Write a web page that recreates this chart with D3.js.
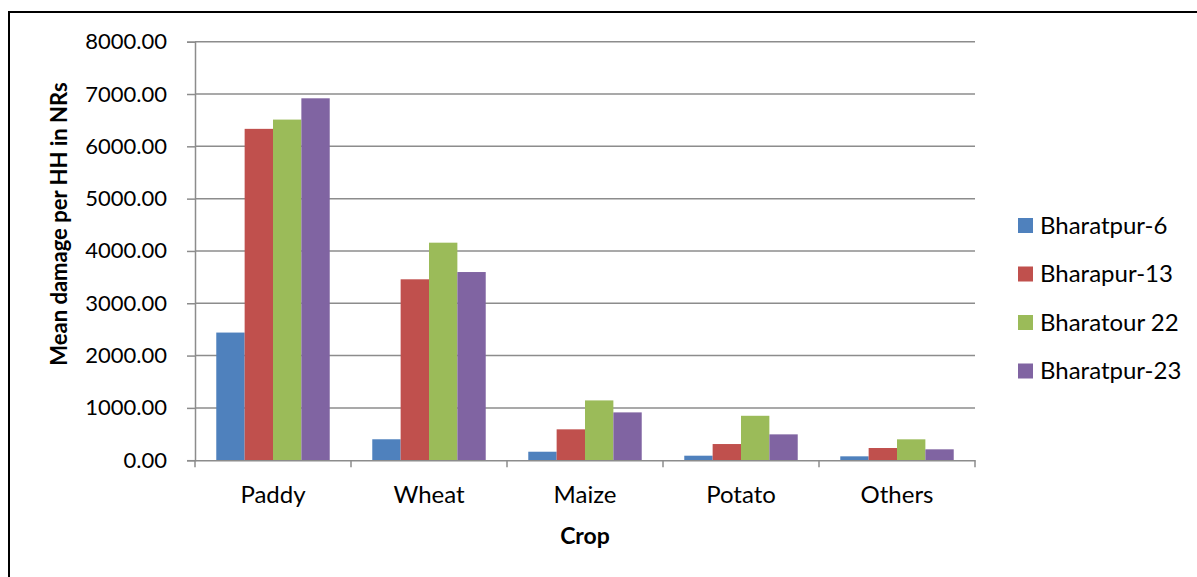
<!DOCTYPE html>
<html>
<head>
<meta charset="utf-8">
<script src="https://cdn.jsdelivr.net/npm/d3@7"></script>
<style>
  html, body { margin: 0; padding: 0; background: #fff; }
  svg { display: block; font-family: Lato, "Open Sans", sans-serif; }
</style>
</head>
<body>
<svg id="chart" width="1197" height="577"></svg>
<script>
// Mean crop damage per household (NRs) by ward
const crops = ["Paddy", "Wheat", "Maize", "Potato", "Others"];
const seriesNames = ["Bharatpur-6", "Bharapur-13", "Bharatour 22", "Bharatpur-23"];
const bharatpur6  = [2440, 400, 162, 86, 74];
const bharapur13  = [6334, 3458, 590, 309, 233];
const bharatour22 = [6511, 4158, 1143, 849, 399];
const bharatpur23 = [6918, 3597, 914, 494, 208];
const yTicks = [0, 1000, 2000, 3000, 4000, 5000, 6000, 7000, 8000];
const colors = ["#4f81bd", "#c0504d", "#9bbb59", "#8064a2"];

const seriesValues = [bharatpur6, bharapur13, bharatour22, bharatpur23];

const svg = d3.select("#chart");

// outer frame (open on right and bottom edges)
svg.append("path")
  .attr("d", "M9,577 L9,12 L1197,12")
  .attr("fill", "none").attr("stroke", "#000").attr("stroke-width", 2);

const plot = { left: 195, right: 975, top: 41.7, bottom: 460.2 };

const x = d3.scaleBand().domain(crops).range([plot.left, plot.right]).paddingInner(0).paddingOuter(0);
const barW = x.bandwidth() / 5.5;
const xs = d3.scaleBand().domain(seriesNames).range([barW * 0.75, barW * 4.75]);
const y = d3.scaleLinear().domain([0, 8000]).range([plot.bottom, plot.top]);

const gridColor = "#8c8c8c";

// horizontal gridlines
svg.append("g").selectAll("line").data(yTicks.filter(d => d > 0)).join("line")
  .attr("x1", plot.left).attr("x2", plot.right)
  .attr("y1", d => y(d)).attr("y2", d => y(d))
  .attr("stroke", gridColor).attr("stroke-width", 1.5);

// y axis
const yAxis = svg.append("g").attr("transform", `translate(${plot.left},0)`)
  .call(d3.axisLeft(y).tickValues(yTicks).tickFormat(d3.format(".2f")).tickSize(8).tickPadding(20));
yAxis.select(".domain").attr("stroke", gridColor).attr("stroke-width", 1.5);
yAxis.selectAll(".tick line").attr("stroke", gridColor).attr("stroke-width", 1.5);
yAxis.selectAll(".tick text").attr("fill", "#000").attr("font-size", 22).attr("font-family", "Lato, sans-serif");

// bars
const groups = svg.append("g").selectAll("g").data(crops).join("g")
  .attr("transform", d => `translate(${x(d)},0)`);
groups.selectAll("rect")
  .data((c, i) => seriesNames.map((s, j) => ({ s, j, v: seriesValues[j][i] })))
  .join("rect")
  .attr("x", d => xs(d.s))
  .attr("width", xs.bandwidth())
  .attr("y", d => y(d.v))
  .attr("height", d => y(0) - y(d.v))
  .attr("fill", d => colors[d.j]);

// x axis
const xAxis = svg.append("g").attr("transform", `translate(0,${plot.bottom})`)
  .call(d3.axisBottom(x).tickSize(0).tickPadding(26));
xAxis.select(".domain").attr("stroke", gridColor).attr("stroke-width", 1.5);
xAxis.selectAll(".tick text").attr("fill", "#000").attr("font-size", 24).attr("font-family", "Lato, sans-serif");
// category separator ticks
const sepPositions = crops.map(c => x(c)).concat([x(crops[crops.length - 1]) + x.bandwidth()]);
xAxis.append("g").selectAll("line").data(sepPositions).join("line")
  .attr("x1", d => d).attr("x2", d => d).attr("y1", 0).attr("y2", 7)
  .attr("stroke", gridColor).attr("stroke-width", 1.5);

// axis titles
svg.append("text").attr("x", 585).attr("y", 544).attr("text-anchor", "middle")
  .attr("font-size", 23).attr("font-weight", "bold").text("Crop");
svg.append("text").attr("transform", "translate(67,224) rotate(-90)")
  .attr("text-anchor", "middle").attr("font-size", 22).attr("font-weight", "bold")
  .text("Mean damage per HH in NRs");

// legend
const legend = svg.append("g").attr("transform", "translate(1018,218)");
const items = legend.selectAll("g").data(seriesNames).join("g")
  .attr("transform", (d, i) => `translate(0,${i * 48.5})`);
items.append("rect").attr("width", 15).attr("height", 15).attr("fill", (d, i) => colors[i]);
items.append("text").attr("x", 22).attr("y", 7.5).attr("dy", "0.35em")
  .attr("font-size", 24).text(d => d);
</script>
</body>
</html>
